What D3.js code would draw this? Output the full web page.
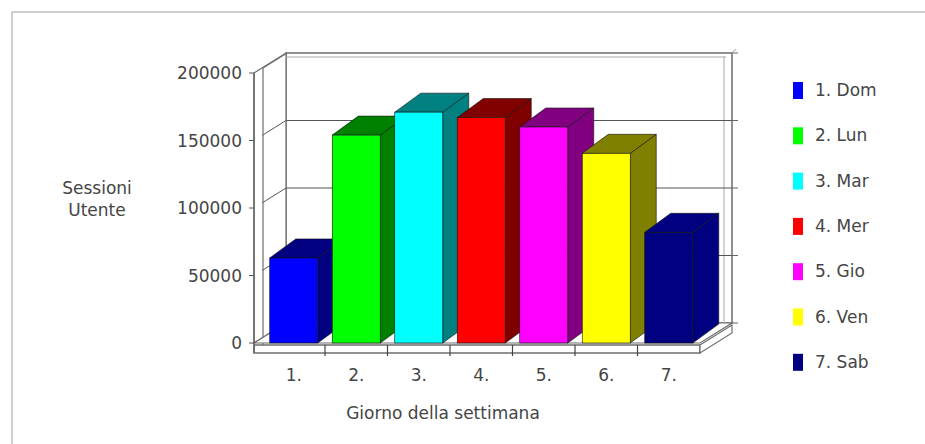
<!DOCTYPE html>
<html><head><meta charset="utf-8">
<script src="https://cdn.jsdelivr.net/npm/d3@7"></script>
<style>
html,body{margin:0;padding:0;background:#fff;}
svg{display:block;font-family:"DejaVu Sans",sans-serif;}
</style></head>
<body><svg id="c" width="925" height="444"></svg>
<script>
const categories = ["1.","2.","3.","4.","5.","6.","7."];
const legendLabels = ["1. Dom","2. Lun","3. Mar","4. Mer","5. Gio","6. Ven","7. Sab"];
const values = [63000,154000,171000,167000,160000,140500,82000];
const frontColors = ["#0000ff","#00ff00","#00ffff","#ff0000","#ff00ff","#ffff00","#000080"];
const sideColors  = ["#000080","#008000","#008080","#800000","#800080","#808000","#000080"];
const yTicks = [0,50000,100000,150000,200000];
const yTitle = ["Sessioni","Utente"];
const xTitle = "Giorno della settimana";

const svg = d3.select("#c");
const textCol = "#454545";
const FS = 17;

// outer frame (top + left)
svg.append("path").attr("d","M12,444V12H925").attr("fill","none").attr("stroke","#cfcfcf").attr("stroke-width",2);

const x = d3.scaleBand().domain(categories).range([262.5,700]).paddingInner(0.232).paddingOuter(0.116);
const y = d3.scaleLinear().domain([0,200000]).range([343,73]);
const DX = 32, DY = -20;     // box depth
const BDX = 26, BDY = -19;   // bar depth
const xL = 254, xR = 700, y0 = y(0), yT = y(200000);
const boxStroke = "#6e6e6e", innerStroke = "#c4c4c4";

const g = svg.append("g");
// back wall
g.append("rect").attr("x",xL+DX).attr("y",yT+DY).attr("width",xR-xL).attr("height",y0-yT)
  .attr("fill","#fff").attr("stroke",boxStroke).attr("stroke-width",1.5);
g.append("path").attr("d",`M${xL+DX-4},${yT+DY+4}H${xR+DX-6}`).attr("stroke",innerStroke).attr("stroke-width",1.5);
g.append("path").attr("d",`M${xR+DX-8},${yT+DY+3}V${y0+DY}`).attr("stroke",innerStroke).attr("stroke-width",1.5);
g.append("line").attr("x1",xR+DX).attr("x2",xR+DX+4).attr("y1",yT+DY).attr("y2",yT+DY-4).attr("stroke",innerStroke).attr("stroke-width",1.2);
// gridlines on back wall
g.selectAll(".grid").data(yTicks.slice(1,-1)).join("line")
  .attr("x1",xL+DX).attr("x2",xR+DX).attr("y1",d=>y(d)+DY).attr("y2",d=>y(d)+DY)
  .attr("stroke","#555").attr("stroke-width",1);
// right ticks
g.selectAll(".rt").data(yTicks).join("line")
  .attr("x1",xR+DX).attr("x2",xR+DX+6).attr("y1",d=>y(d)+DY).attr("y2",d=>y(d)+DY)
  .attr("stroke","#666").attr("stroke-width",1);
// left wall
g.append("path").attr("d",`M${xL},${y0}V${yT}L${xL+DX},${yT+DY}V${y0+DY}Z`)
  .attr("fill","#fff").attr("stroke",boxStroke).attr("stroke-width",1.2);
g.selectAll(".ld").data(yTicks.slice(1,-1)).join("line")
  .attr("x1",xL+8).attr("x2",xL+DX).attr("y1",d=>y(d)-5).attr("y2",d=>y(d)+DY)
  .attr("stroke","#555").attr("stroke-width",1);
g.append("line").attr("x1",xL+9).attr("x2",xL+9).attr("y1",yT-5).attr("y2",y0+2).attr("stroke",boxStroke).attr("stroke-width",1.2);
g.append("line").attr("x1",xL+9).attr("x2",xL+DX+1).attr("y1",yT-5).attr("y2",yT+DY).attr("stroke",boxStroke).attr("stroke-width",1.2);
// floor
g.append("path").attr("d",`M${xL},${y0}H${xR}L${xR+DX},${y0+DY}H${xL+DX}Z`)
  .attr("fill","#fff").attr("stroke",boxStroke).attr("stroke-width",1.2);
// floor slab front + right side
g.append("rect").attr("x",xL).attr("y",y0+2).attr("width",xR-xL).attr("height",8)
  .attr("fill","#fff").attr("stroke",boxStroke).attr("stroke-width",1.5);
g.append("path").attr("d",`M${xR},${y0+2}L${xR+DX},${y0+DY+2}V${y0+DY+10}L${xR},${y0+10}Z`)
  .attr("fill","#fff").attr("stroke",boxStroke).attr("stroke-width",1.2);
// front-left axis line
g.append("line").attr("x1",xL).attr("x2",xL).attr("y1",yT).attr("y2",y0+10).attr("stroke","#666").attr("stroke-width",1.5);
// y ticks
g.selectAll(".yt").data(yTicks).join("line")
  .attr("x1",xL-5).attr("x2",xL).attr("y1",d=>y(d)).attr("y2",d=>y(d)).attr("stroke","#555");

// bars
const bars = g.selectAll(".bar").data(values.map((v,i)=>({v,i,c:categories[i]}))).join("g");
bars.each(function(d){
  const s = d3.select(this);
  const bx = x(d.c), bw = x.bandwidth(), top = y(d.v);
  s.append("path").attr("d",`M${bx+bw},${top}L${bx+bw+BDX},${top+BDY}V${y0+BDY}L${bx+bw},${y0}Z`)
    .attr("fill",sideColors[d.i]).attr("stroke","#111").attr("stroke-width",0.6);
  s.append("path").attr("d",`M${bx},${top}L${bx+BDX},${top+BDY}H${bx+bw+BDX}L${bx+bw},${top}Z`)
    .attr("fill",sideColors[d.i]).attr("stroke","#111").attr("stroke-width",0.6);
  s.append("rect").attr("x",bx).attr("y",top).attr("width",bw).attr("height",y0-top)
    .attr("fill",frontColors[d.i]).attr("stroke","#111").attr("stroke-width",0.6);
});

// x ticks at band boundaries
g.selectAll(".xt").data(categories.slice(1)).join("line")
  .attr("x1",d=>x(d)-x.step()*x.paddingInner()/2).attr("x2",d=>x(d)-x.step()*x.paddingInner()/2)
  .attr("y1",y0+2).attr("y2",y0+13).attr("stroke","#444").attr("stroke-width",1.2);

// y labels
svg.selectAll(".yl").data(yTicks).join("text")
  .attr("x",242).attr("y",d=>y(d)+6).attr("text-anchor","end")
  .attr("font-size",FS).attr("fill",textCol).text(d=>d);
// x labels
svg.selectAll(".xl").data(categories).join("text")
  .attr("x",d=>x(d)+x.bandwidth()/2).attr("y",381).attr("text-anchor","middle")
  .attr("font-size",FS).attr("fill",textCol).text(d=>d);
// titles
svg.append("text").attr("x",443).attr("y",419).attr("text-anchor","middle")
  .attr("font-size",FS).attr("fill",textCol).text(xTitle);
svg.selectAll(".yti").data(yTitle).join("text")
  .attr("x",97).attr("y",(d,i)=>194+i*22).attr("text-anchor","middle")
  .attr("font-size",FS).attr("fill",textCol).text(d=>d);

// legend
const lg = svg.append("g");
legendLabels.forEach((t,i)=>{
  const cy = 90 + i*45.3;
  lg.append("rect").attr("x",793).attr("y",cy-8).attr("width",10).attr("height",17).attr("fill",frontColors[i]);
  lg.append("text").attr("x",815).attr("y",cy+6).attr("font-size",FS).attr("fill",textCol).text(t);
});
</script></body></html>
